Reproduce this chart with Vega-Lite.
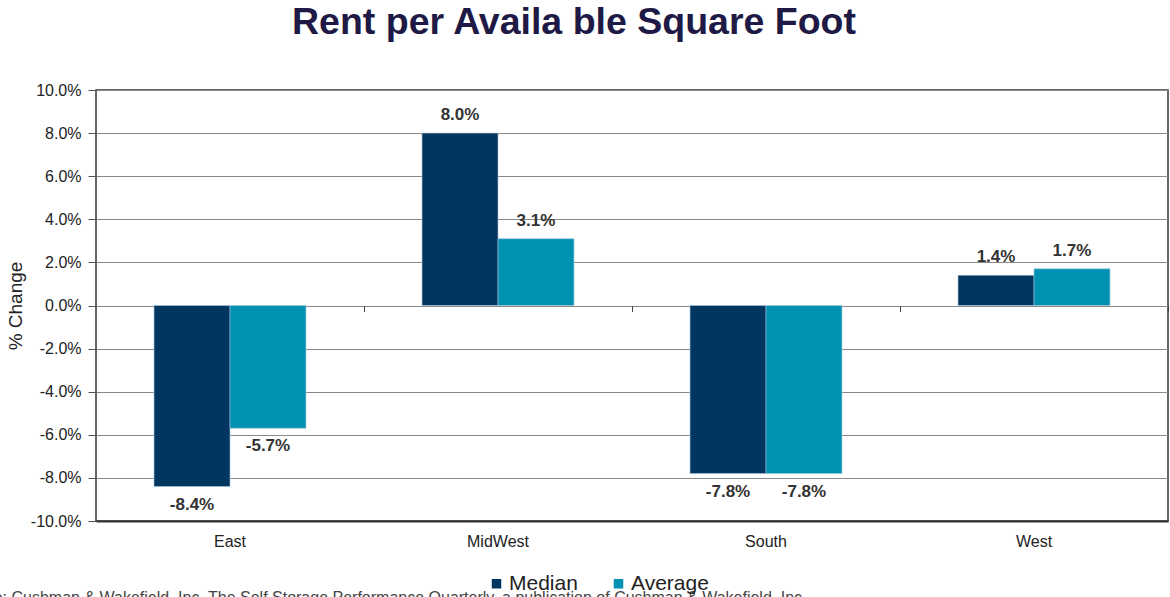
{
  "$schema": "https://vega.github.io/schema/vega-lite/v6.json",
  "width": 1072,
  "height": 431,
  "autosize": {"type": "none"},
  "padding": {"left": 96, "top": 90, "right": 2, "bottom": 76},
  "background": "white",
  "title": {
    "text": "Rent per Availa ble Square Foot",
    "font": "Liberation Sans",
    "fontSize": 37.5,
    "fontWeight": "bold",
    "color": "#1e1a45",
    "anchor": "middle",
    "dx": -58,
    "baseline": "alphabetic",
    "offset": 11
  },
  "config": {
    "font": "Liberation Sans",
    "view": {"stroke": "#333333", "strokeWidth": 1.5},
    "locale": {"number": {"decimal": ".", "thousands": ",", "grouping": [3], "currency": ["$", ""], "minus": "-"}},
    "legend": {
      "labelFontSize": 21,
      "labelColor": "#222222",
      "labelFont": "Liberation Sans",
      "symbolType": "square",
      "symbolSize": 90,
      "symbolStrokeWidth": 0,
      "columnPadding": 30,
      "labelOffset": 2
    }
  },
  "data": {
    "values": [
      {"region": "East", "measure": "Median", "value": -0.084},
      {"region": "East", "measure": "Average", "value": -0.057},
      {"region": "MidWest", "measure": "Median", "value": 0.08},
      {"region": "MidWest", "measure": "Average", "value": 0.031},
      {"region": "South", "measure": "Median", "value": -0.078},
      {"region": "South", "measure": "Average", "value": -0.078},
      {"region": "West", "measure": "Median", "value": 0.014},
      {"region": "West", "measure": "Average", "value": 0.017}
    ]
  },
  "resolve": {"axis": {"x": "independent"}},
  "encoding": {
    "xOffset": {"field": "measure", "type": "nominal", "sort": ["Median", "Average"], "scale": {"paddingInner": 0, "paddingOuter": 0}},
    "y": {
      "field": "value",
      "type": "quantitative",
      "scale": {"domain": [-0.1, 0.1], "nice": false, "zero": true},
      "axis": {
        "values": [-0.1, -0.08, -0.06, -0.04, -0.02, 0, 0.02, 0.04, 0.06, 0.08, 0.1],
        "format": ".1%",
        "labelFontSize": 16,
        "labelColor": "#222222",
        "labelPadding": 7,
        "tickSize": 8,
        "tickColor": "#555555",
        "domain": false,
        "grid": true,
        "gridColor": "#8a8a8a",
        "gridWidth": 1,
        "title": "% Change",
        "titleFontSize": 19,
        "titleFontWeight": "normal",
        "titleColor": "#222222",
        "titlePadding": 5
      }
    }
  },
  "layer": [
    {
      "mark": {"type": "bar", "stroke": "#a9c4d6", "strokeWidth": 0.6},
      "encoding": {
        "x": {
          "field": "region",
          "type": "nominal",
          "sort": ["East", "MidWest", "South", "West"],
          "scale": {"paddingInner": 0.433, "paddingOuter": 0.2165},
          "axis": {
            "orient": "bottom",
            "labelAngle": 0,
            "labelFontSize": 16,
            "labelColor": "#222222",
            "labelPadding": 12,
            "ticks": false,
            "domain": true,
            "domainColor": "#333333",
            "domainWidth": 2,
            "grid": false,
            "title": "Source: Cushman & Wakefield, Inc. The Self Storage Performance Quarterly, a publication of Cushman & Wakefield, Inc.",
            "titleX": 710,
            "titleY": 81,
            "titleAlign": "right",
            "titleAnchor": null,
            "titleBaseline": "alphabetic",
            "titleFontSize": 16,
            "titleFontWeight": "normal",
            "titleColor": "#444444"
          }
        },
        "color": {
          "field": "measure",
          "type": "nominal",
          "sort": ["Median", "Average"],
          "scale": {"domain": ["Median", "Average"], "range": ["#003660", "#0092b2"]},
          "legend": {"title": null, "orient": "none", "direction": "horizontal", "legendX": 390, "legendY": 483}
        }
      }
    },
    {
      "transform": [{"filter": "datum.value >= 0"}],
      "mark": {"type": "text", "baseline": "bottom", "dy": -9, "fontSize": 17, "fontWeight": "bold", "color": "#333333"},
      "encoding": {
        "x": {
          "field": "region",
          "type": "nominal",
          "sort": ["East", "MidWest", "South", "West"],
          "scale": {"paddingInner": 0.433, "paddingOuter": 0.2165},
          "axis": {
            "orient": "top",
            "offset": -215.5,
            "labels": false,
            "domain": false,
            "grid": false,
            "ticks": true,
            "tickOffset": 134,
            "tickSize": -6,
            "tickColor": "#444444",
            "title": null
          }
        },
        "text": {"field": "value", "type": "quantitative", "format": ".1%"}
      }
    },
    {
      "transform": [{"filter": "datum.value < 0"}],
      "mark": {"type": "text", "baseline": "top", "dy": 10, "fontSize": 17, "fontWeight": "bold", "color": "#333333"},
      "encoding": {
        "x": {
          "field": "region",
          "type": "nominal",
          "sort": ["East", "MidWest", "South", "West"],
          "scale": {"paddingInner": 0.433, "paddingOuter": 0.2165},
          "axis": null
        },
        "text": {"field": "value", "type": "quantitative", "format": ".1%"}
      }
    }
  ]
}
